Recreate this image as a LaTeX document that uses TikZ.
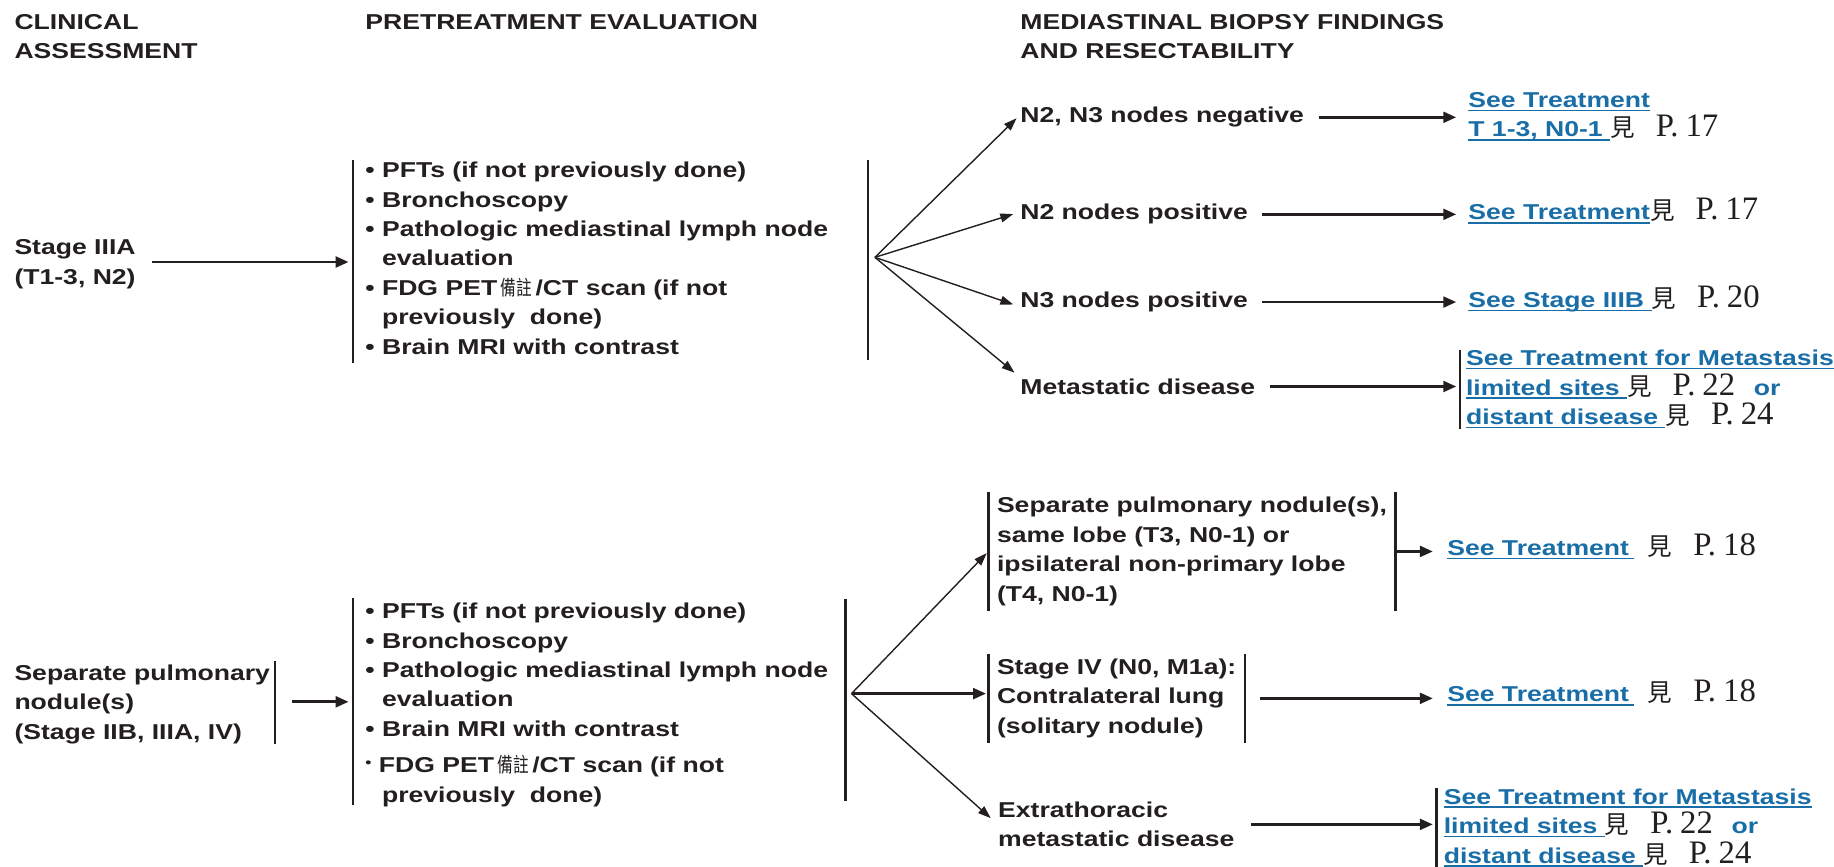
\documentclass[tikz,border=0pt]{standalone}
\usepackage{fontspec}
\setmainfont{Liberation Sans}[FakeStretch=1.235]
\newfontfamily\cjk{Noto Sans CJK TC}
\newfontfamily\cjknarrow{Noto Sans CJK TC}[FakeStretch=0.76]
\newfontfamily\pgserif{Liberation Serif}
\usetikzlibrary{arrows.meta}

\definecolor{ink}{RGB}{35,31,32}
\definecolor{linkblue}{RGB}{26,110,168}

% text helpers
\newcommand\bodyfont{\fontsize{9.2}{12.6}\selectfont\bfseries}
\newcommand\lnk[1]{\setbox0=\hbox{#1}\rlap{\rule[-1.6pt]{\wd0}{0.65pt}}\box0}
\newcommand\seep[1]{{\color{ink}\cjk\mdseries\fontsize{10.5}{10.5}\selectfont 見}\hspace{9pt}{\color{ink}\pgserif\mdseries\fontsize{14}{14}\selectfont P.\hspace{3pt}#1}}
\newcommand\bul{\textbullet\ }
\newcommand\ind{\hphantom{\textbullet\ }}
\newcommand\note{\hspace{1.5pt}{\cjknarrow\mdseries\fontsize{8.8}{8.8}\selectfont 備註}\hspace{1.5pt}}

\begin{document}
\begin{tikzpicture}[x=0.5pt,y=-0.5pt,
  % nodes are placed by the baseline of their last line
  txt/.style={font=\bodyfont, text=ink, anchor=base west, align=left, inner sep=0pt},
  lnk/.style={txt, text=linkblue},
  box/.style={txt, inner xsep=3.5pt, inner ysep=2pt},
  bar/.style={draw=ink, line width=1pt},
  arr/.style={draw=ink, line width=1.15pt, -{Triangle[length=5.5pt,width=4.6pt]}},
  fan/.style={draw=ink, line width=0.6pt, -{Triangle[length=5.5pt,width=3.8pt]}}]
\useasboundingbox (0,0) rectangle (1568,741);

% column headings
\node[txt] (hclin) at (12,50) {CLINICAL\\ASSESSMENT};
\node[txt] (hpre) at (312,25) {PRETREATMENT EVALUATION};
\node[txt] (hmed) at (872,50) {MEDIASTINAL BIOPSY FINDINGS\\AND RESECTABILITY};

% ---------- Stage IIIA branch ----------
\node[txt] (st1) at (12,243) {Stage IIIA\\(T1-3, N2)};
\node[txt] (ev1) at (312,303) {\bul PFTs (if not previously done)\\
  \bul Bronchoscopy\\
  \bul Pathologic mediastinal lymph node\\
  \ind evaluation\\
  \bul FDG PET\note/CT scan\hspace{3pt}(if not\\
  \ind previously\ \ done)\\
  \bul Brain MRI with contrast};
\coordinate (b1lt) at (302,137); \coordinate (b1lb) at (302,310);
\coordinate (b1rt) at (742,137); \coordinate (b1rb) at (742,308);
\draw[bar] (b1lt) -- (b1lb);
\draw[bar] (b1rt) -- (b1rb);
\coordinate (in1) at (298,224);
\draw[arr, shorten <=7pt] (st1.east |- in1) -- (in1);

\coordinate (fan1) at (748,220);
\node[txt] (nneg) at (872,105) {N2, N3 nodes negative};
\node[txt] (n2p) at (872,188) {N2 nodes positive};
\node[txt] (n3p) at (872,263) {N3 nodes positive};
\node[txt] (met) at (872,337) {Metastatic disease};
\draw[fan, shorten >=2pt] (fan1) -- ([yshift=1pt]nneg.west);
\draw[fan, shorten >=3pt] (fan1) -- ([yshift=1pt]n2p.west);
\draw[fan, shorten >=3pt] (fan1) -- ([yshift=-2pt]n3p.west);
\draw[fan, shorten >=3pt] (fan1) -- ([yshift=4pt]met.west);

\node[lnk] (l1) at (1255,117) {\lnk{See Treatment}\\\lnk{T 1-3, N0-1 }\seep{17}};
\node[lnk] (l2) at (1255,188) {\lnk{See Treatment}\seep{17}};
\node[lnk] (l3) at (1255,263) {\lnk{See Stage IIIB }\seep{20}};
\node[lnk] (l4) at (1253,363) {\lnk{See Treatment for Metastasis}\\
  \lnk{limited sites }\seep{22}\hspace{8pt}or\\
  \lnk{distant disease }\seep{24}};
\draw[bar] ([xshift=-2.5pt]l4.north west) -- ([xshift=-2.5pt]l4.south west);

\draw[arr, shorten <=6pt, shorten >=5pt] (nneg.east) -- (nneg.east -| l1.west);
\draw[arr, shorten <=6pt, shorten >=5pt] (n2p.east) -- (n2p.east -| l2.west);
\draw[arr, shorten <=6pt, shorten >=5pt] (n3p.east) -- (n3p.east -| l3.west);
\draw[arr, shorten <=6pt, shorten >=4pt] (met.east) -- (met.east -| l4.west);

% ---------- separate pulmonary nodule branch ----------
\node[txt] (st2) at (12,632) {Separate pulmonary\\nodule(s)\\(Stage IIB, IIIA, IV)};
\coordinate (b0t) at (235,565); \coordinate (b0b) at (235,636);
\draw[bar] (b0t) -- (b0b);
\coordinate (in2) at (298,600);
\draw[arr, shorten <=9pt] (st2.east |- in2) -- (in2);

\node[txt] (ev2) at (312,686) {\bul PFTs (if not previously done)\\
  \bul Bronchoscopy\\
  \bul Pathologic mediastinal lymph node\\
  \ind evaluation\\
  \bul Brain MRI with contrast\\[3pt]
  \raisebox{2.5pt}{\fontsize{6}{6}\selectfont\textbullet}\ FDG PET\note/CT scan\hspace{3pt}(if not\\
  \ind previously\ \ done)};
\coordinate (b2lt) at (302,511); \coordinate (b2lb) at (302,688);
\coordinate (b2rt) at (723,512); \coordinate (b2rb) at (723,685);
\draw[bar] (b2lt) -- (b2lb);
\draw[bar] (b2rt) -- (b2rb);

\coordinate (fan2) at (728,593);
\node[box] (bx1) at (845,514) {Separate pulmonary nodule(s),\\same lobe (T3, N0-1) or\\ipsilateral non-primary lobe\\(T4, N0-1)};
\node[box] (bx2) at (845,627) {Stage IV (N0, M1a):\\Contralateral lung\\(solitary nodule)};
\node[txt] (ext) at (853,724) {Extrathoracic\\metastatic disease};
\foreach \b in {bx1,bx2} {
  \draw[bar] (\b.north west) -- (\b.south west);
  \draw[bar] (\b.north east) -- (\b.south east);
}
\draw[fan, shorten >=1pt] (fan2) -- (bx1.west);
\draw[arr, shorten >=1pt] (fan2) -- (fan2 -| bx2.west);
\draw[fan, shorten >=4pt] (fan2) -- (ext.west);

\node[lnk] (l5) at (1237,475) {\lnk{See Treatment\hspace{2pt}}\hspace{6pt}\seep{18}};
\node[lnk] (l6) at (1237,600) {\lnk{See Treatment\hspace{2pt}}\hspace{6pt}\seep{18}};
\node[lnk] (l7) at (1234,738) {\lnk{See Treatment for Metastasis}\\
  \lnk{limited sites }\seep{22}\hspace{8pt}or\\
  \lnk{distant disease }\seep{24}};
\draw[bar] ([xshift=-3pt]l7.north west) -- ([xshift=-3pt]l7.south west);

\draw[arr, shorten >=6pt] (bx1.east) -- (bx1.east -| l5.west);
\draw[arr, shorten <=6.5pt, shorten >=6pt] (bx2.east) -- (bx2.east -| l6.west);
\draw[arr, shorten <=7pt, shorten >=4.5pt] (ext.east) -- (ext.east -| l7.west);
\end{tikzpicture}
\end{document}
